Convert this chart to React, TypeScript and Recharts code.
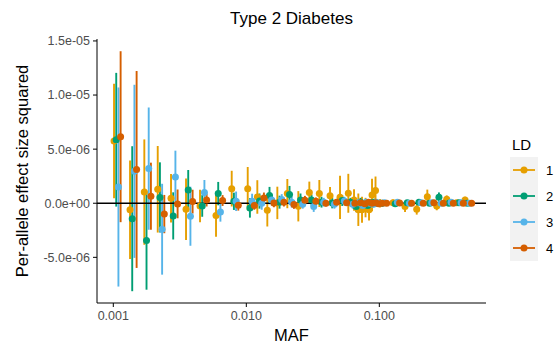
import React from 'react'
import { ScatterChart, Scatter, XAxis, YAxis, ErrorBar, ReferenceLine, Legend } from 'recharts'

// MAF bin centres
const bins = [
  0.001072, 0.001414, 0.001811, 0.002284, 0.002875, 0.003728, 0.00475, 0.006266, 0.008222,
  0.010847, 0.012809, 0.015228, 0.018113, 0.021536, 0.026049, 0.031514, 0.037476, 0.0451,
  0.05362, 0.06189, 0.06833, 0.0736, 0.07846, 0.08338, 0.08858, 0.09331, 0.09913, 0.10718,
  0.13421, 0.1652, 0.2023, 0.243, 0.2861, 0.3401, 0.4044, 0.467,
]

// effect size squared (x 1e-6) and its standard error, per LD group
const ld1Effect = [
  5.75, -0.61, 1.03, 1.29, 0.46, -0.55, -0.25, -1.14, 1.35, 1.35, 0.58, -0.65, 0.03, 0.89, -0.28, 1.0, 0.9, 0.7,
  0.55, 0.92, 0.3, -0.6, -0.6, -0.4, -0.6, 0.77, 1.17, 0.0, 0.05, -0.3, -0.55, 0.61, -0.25, 0.37, 0.05, 0.3,
]
const ld1Se = [
  5.3, 4.55, 4.87, 4.0, 2.24, 2.84, 1.5, 1.95, 1.65, 2.0, 1.55, 1.5, 1.5, 1.35, 1.4, 1.0, 1.25, 0.8,
  2.0, 1.8, 1.0, 1.5, 1.2, 0.9, 1.0, 1.5, 1.3, 0.4, 0.3, 0.5, 0.5, 0.65, 0.4, 0.35, 0.2, 0.3,
]
const ld2Effect = [
  5.87, -1.43, -3.44, 0.54, -1.17, 1.23, -0.25, 0.89, 0.18, -0.43, 0.2, 0.71, 0.1, 0.8, 0.3, 0.3, 0.1, 0.03,
  0.25, 0.1, -0.3, 0.1, 0.0, -0.2, 0.05, 0.1, 0.0, 0.0, -0.05, 0.05, 0.1, 0.0, 0.55, 0.0, 0.05, 0.0,
]
const ld2Se = [
  6.18, 6.7, 4.55, 3.24, 2.18, 1.84, 1.0, 1.08, 0.8, 0.9, 0.7, 0.8, 0.6, 0.8, 0.6, 0.5, 0.5, 0.5,
  0.5, 0.4, 0.5, 0.4, 0.3, 0.3, 0.3, 0.3, 0.3, 0.3, 0.2, 0.2, 0.2, 0.2, 0.45, 0.2, 0.2, 0.15,
]
const ld3Effect = [
  1.5, 2.95, 3.2, -2.4, 2.43, -1.2, 1.0, -0.8, 0.18, 0.18, 0.0, 0.3, 0.34, 0.1, -0.1, -0.3, 0.1, -0.1,
  0.2, -0.1, 0.05, -0.2, 0.1, 0.0, -0.1, 0.1, 0.0, 0.05, 0.1, 0.0, 0.05, 0.05, 0.0, 0.1, 0.05, 0.0,
]
const ld3Se = [
  9.2, 8.0, 5.65, 4.2, 2.43, 2.73, 1.15, 0.9, 0.9, 0.7, 0.6, 0.5, 0.5, 0.5, 0.4, 0.5, 0.4, 0.4,
  0.4, 0.4, 0.3, 0.3, 0.3, 0.3, 0.3, 0.2, 0.2, 0.2, 0.2, 0.2, 0.2, 0.2, 0.2, 0.2, 0.15, 0.15,
]
const ld4Effect = [
  6.15, 3.12, 0.65, -1.0, -0.06, 0.15, 0.3, 0.25, -0.18, -0.2, 0.49, 0.03, 0.1, -0.12, 0.28, 0.18, 0.0, 0.1,
  0.05, 0.0, 0.05, -0.05, 0.1, 0.0, 0.05, -0.05, 0.0, 0.0, 0.02, 0.0, 0.0, 0.05, 0.0, 0.0, 0.0, 0.0,
]
const ld4Se = [
  7.9, 9.1, 3.1, 1.77, 1.33, 1.1, 0.6, 0.5, 0.5, 0.4, 0.5, 0.4, 0.4, 0.4, 0.4, 0.35, 0.3, 0.3,
  0.3, 0.3, 0.2, 0.2, 0.2, 0.2, 0.2, 0.2, 0.2, 0.2, 0.2, 0.2, 0.2, 0.2, 0.15, 0.15, 0.15, 0.15,
]

const ldLabels = ['1', '2', '3', '4']
const colors = ['#E69F00', '#009E73', '#56B4E9', '#D55E00']

const xTicks = [0.001, 0.01, 0.1]
const xTickLabels = ['0.001', '0.010', '0.100']
const yTicks = [-5e-6, 0, 5e-6, 1e-5, 1.5e-5]
const yTickLabels = ['-5.0e-06', '0.0e+00', '5.0e-06', '1.0e-05', '1.5e-05']

// position_dodge in log10 units
const dodge = [-1.5, -0.5, 0.5, 1.5]
const dodgeStep = 0.0165

const effects = [ld1Effect, ld2Effect, ld3Effect, ld4Effect]
const ses = [ld1Se, ld2Se, ld3Se, ld4Se]

const series = effects.map((eff, i) =>
  bins.map((b, j) => ({
    maf: b * Math.pow(10, dodge[i] * dodgeStep),
    eff: eff[j] * 1e-6,
    err: ses[i][j] * 1e-6,
  }))
)

const font = '"Liberation Sans", Arial, sans-serif'

const noShape = () => <g />

const renderLegend = () => (
  <div style={{ fontFamily: font, paddingLeft: 24 }}>
    <div style={{ fontSize: 15, lineHeight: '16px', height: 20, color: '#000', paddingLeft: 2 }}>LD</div>
    {ldLabels.map((l, i) => (
      <div key={l} style={{ display: 'flex', alignItems: 'center', height: 26 }}>
        <svg width={28} height={26} style={{ background: '#F2F2F2', display: 'block' }}>
          <line x1={3} x2={25} y1={13} y2={13} stroke={colors[i]} strokeWidth={1.8} />
          <circle cx={14} cy={13} r={3.5} fill={colors[i]} />
        </svg>
        <span style={{ marginLeft: 8, fontSize: 13, color: '#000' }}>{l}</span>
      </div>
    ))}
  </div>
)

export default function App() {
  return (
    <div style={{ position: 'absolute', left: 0, top: 0 }}>
      <ScatterChart width={557} height={350} margin={{ top: 39, right: 0, bottom: 0, left: 0 }}>
        <text x={291.5} y={24} textAnchor="middle" fontSize={17} fontFamily={font} fill="#000">
          Type 2 Diabetes
        </text>
        <XAxis
          dataKey="maf"
          type="number"
          scale="log"
          domain={[0.000754, 0.634]}
          allowDataOverflow
          ticks={xTicks}
          tickFormatter={(v: number) => xTickLabels[xTicks.indexOf(v)] ?? String(v)}
          height={47}
          tickSize={4}
          tickMargin={4}
          stroke="#000"
          tick={{ fill: '#4D4D4D', fontSize: 12.5, fontFamily: font }}
          label={{ value: 'MAF', position: 'insideBottom', offset: 9, fill: '#000', fontSize: 16.5, fontFamily: font }}
        />
        <YAxis
          dataKey="eff"
          type="number"
          domain={[-9.22e-6, 1.518e-5]}
          allowDataOverflow
          ticks={yTicks}
          tickFormatter={(v: number) => yTickLabels[yTicks.indexOf(v)] ?? String(v)}
          width={97}
          tickSize={4}
          tickMargin={3}
          stroke="#000"
          tick={{ fill: '#4D4D4D', fontSize: 12.5, fontFamily: font }}
          label={{
            value: 'Per-allele effect size squared',
            angle: -90,
            position: 'insideLeft',
            offset: 22,
            fill: '#000',
            fontSize: 16.5,
            fontFamily: font,
            style: { textAnchor: 'middle' },
          }}
        />
        {series.map((d, i) => (
          <Scatter key={'bar' + i} data={d} shape={noShape} legendType="none" isAnimationActive={false}>
            <ErrorBar dataKey="err" direction="y" width={0} stroke={colors[i]} strokeWidth={1.9} isAnimationActive={false} />
          </Scatter>
        ))}
        {series.map((d, i) => (
          <Scatter key={'pt' + i} name={ldLabels[i]} data={d} fill={colors[i]} isAnimationActive={false}
            shape={(p: any) => <circle cx={p.cx} cy={p.cy} r={3.5} fill={colors[i]} />} />
        ))}
        <ReferenceLine y={0} stroke="#000" strokeWidth={1.5} />
        <Legend layout="vertical" align="right" verticalAlign="top" width={71}
          wrapperStyle={{ top: 137 }} content={renderLegend} />
      </ScatterChart>
    </div>
  )
}
